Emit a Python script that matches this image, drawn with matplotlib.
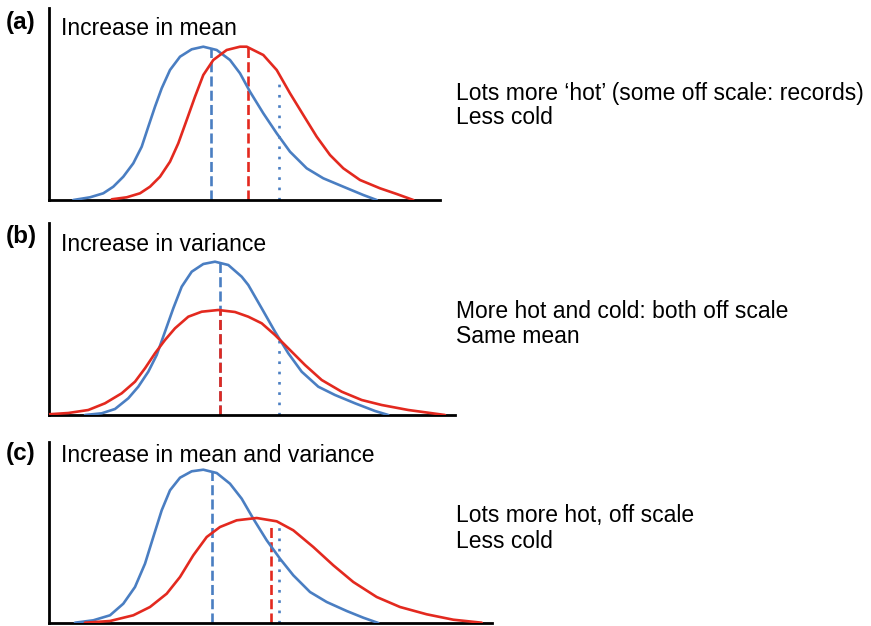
import matplotlib
matplotlib.use("Agg")
import matplotlib.pyplot as plt

plt.rcParams['font.family'] = ['Liberation Sans', 'DejaVu Sans']

W, H = 871, 626

# ---- data (x: arbitrary temperature units, y: relative frequency) ----
blue_a_x = [73.3, 90, 103.3, 113.3, 123.3, 133.3, 141.7, 148.3, 155, 161.7, 170, 180, 191.7,
            203.3, 216.7, 230, 240, 250, 263.3, 276.7, 290, 306.7, 323.3, 343.3, 363.3, 376.7]
blue_a_y = [0, 2.7, 6.7, 13.3, 23.3, 36.7, 53.3, 73.3, 93.3, 111.7, 130, 143.3, 150.7,
            153.3, 150, 140, 126.7, 108.3, 86.7, 66.7, 48.3, 31.7, 21.7, 13.3, 5, 0]
red_a_x = [111.7, 126.7, 140, 150, 160, 170, 178.3, 186.7, 195, 203.3, 213.3, 226.7, 240,
           246.7, 263.3, 276.7, 290, 303.3, 316.7, 330, 343.3, 360, 380, 396.7, 413.3]
red_a_y = [0.7, 2.7, 6.7, 13.3, 23.3, 38.3, 56.7, 80, 103.3, 125, 140, 150, 153.3,
           153.3, 145, 130, 106.7, 85, 63.3, 45, 31.7, 20, 11.7, 6, 0]

blue_b_x = [85, 101.7, 115, 128.3, 138.3, 148.3, 156.7, 165, 173.3, 181.7, 191.7, 203.3, 215,
            228.3, 241.7, 248.3, 261.7, 275, 288.3, 301.7, 318.3, 335, 355, 375, 388.3]
blue_b_y = [0, 1.7, 6, 16.7, 28.3, 43.3, 60, 83.3, 106.7, 128.3, 143.3, 151, 153.3,
            150, 138.3, 130, 106.7, 83.3, 61.7, 43.3, 28.3, 20, 11.7, 4, 0]
red_b_x = [48.3, 68.3, 88.3, 105, 121.7, 135, 145, 155, 165, 175, 188.3, 201.7, 218.3,
           235, 248.3, 261.7, 275, 288.3, 305, 321.7, 341.7, 361.7, 381.7, 408.3, 445]
red_b_y = [0.7, 2, 5, 11.7, 21.7, 33.3, 46.7, 61.7, 75, 86.7, 98.3, 103.3, 105,
           103, 98.3, 91.7, 80, 66.7, 50, 35, 23.3, 15, 10, 5, 0]

blue_c_x = [75, 93.3, 110, 123.3, 135, 145, 153.3, 161.7, 170, 180, 191.7, 203.3, 216.7,
            230, 241.7, 253.3, 266.7, 280, 293.3, 310, 326.7, 346.7, 363.3, 378.3]
blue_c_y = [0.3, 2.7, 7.7, 19.3, 36, 59.3, 86, 112.7, 132.7, 145.3, 151.7, 153.3, 150,
            139.3, 124.3, 104.3, 82.7, 64.3, 47.7, 31, 21, 12, 5.3, 0]
red_c_x = [85, 110, 133.3, 150, 166.7, 180, 193.3, 206.7, 220, 236.7, 256.7, 276.7, 293.3,
           313.3, 333.3, 353.3, 376.7, 400, 426.7, 453.3, 481.7]
red_c_y = [0.3, 2, 7.7, 16, 29.3, 46, 67.7, 86, 96, 102.7, 105, 101.7, 92.7,
           76, 57.7, 41, 26, 16, 8.7, 3.3, 0.3]

# vertical markers: (x, top) for blue mean, red mean, blue threshold
blue_mean = [(210.7, 152.7), (220, 152.7), (211.7, 152.7)]
red_mean = [(248.3, 153), (220, 105), (271, 97.7)]
threshold = [(279.3, 116.7), (279, 75), (279, 96)]

panel_letters = ['(a)', '(b)', '(c)']
titles = ['Increase in mean', 'Increase in variance', 'Increase in mean and variance']
notes = [["Lots more \u2018hot\u2019 (some off scale: records)", 'Less cold'],
         ['More hot and cold: both off scale', 'Same mean'],
         ['Lots more hot, off scale', 'Less cold']]

blue = '#4a7ec2'
red = '#e3291f'

fig = plt.figure(figsize=(W / 100, H / 100), dpi=100)

# layout in pixels: left, right, top, bottom
boxes = [(49, 440, 8, 200), (49, 455, 223, 415), (49, 492, 442, 623)]
curves = [(blue_a_x, blue_a_y, red_a_x, red_a_y),
          (blue_b_x, blue_b_y, red_b_x, red_b_y),
          (blue_c_x, blue_c_y, red_c_x, red_c_y)]
letter_y = [29, 243, 460]
title_y = [35, 251, 462]
note_y = [(100, 124), (318, 343), (522, 548)]
LW = 1.9

for i in range(3):
    l, r, t, b = boxes[i]
    ax = fig.add_axes([l / W, 1 - b / H, (r - l) / W, (b - t) / H])
    ax.set_xlim(l, r)
    ax.set_ylim(0, b - t)
    for s in ['top', 'right']:
        ax.spines[s].set_visible(False)
    for s in ['left', 'bottom']:
        ax.spines[s].set_linewidth(2.0)
        ax.spines[s].set_color('black')
    ax.set_xticks([])
    ax.set_yticks([])
    ax.patch.set_alpha(0)
    bx, by, rx, ry = curves[i]
    ax.plot(bx, by, color=blue, lw=LW, solid_capstyle='round', solid_joinstyle='round', zorder=3)
    ax.plot(rx, ry, color=red, lw=LW, solid_capstyle='round', solid_joinstyle='round', zorder=3)
    x, top = blue_mean[i]
    ax.plot([x, x], [0, top], color=blue, lw=LW, dashes=(3.8, 1.6), zorder=2)
    x, top = red_mean[i]
    ax.plot([x, x], [0, top], color=red, lw=LW, dashes=(3.8, 1.6), zorder=2.5)
    x, top = threshold[i]
    ax.plot([x, x], [0, top], color=blue, lw=LW, dashes=(1, 2.9), zorder=2)

    fig.text(6 / W, 1 - letter_y[i] / H, panel_letters[i], fontsize=17.5,
             fontweight='bold', va='baseline', ha='left')
    fig.text(61 / W, 1 - title_y[i] / H, titles[i], fontsize=16.5,
             va='baseline', ha='left')
    for line, yy in zip(notes[i], note_y[i]):
        fig.text(456 / W, 1 - yy / H, line, fontsize=16.5, va='baseline', ha='left')

fig.savefig('out.png', dpi=100)
